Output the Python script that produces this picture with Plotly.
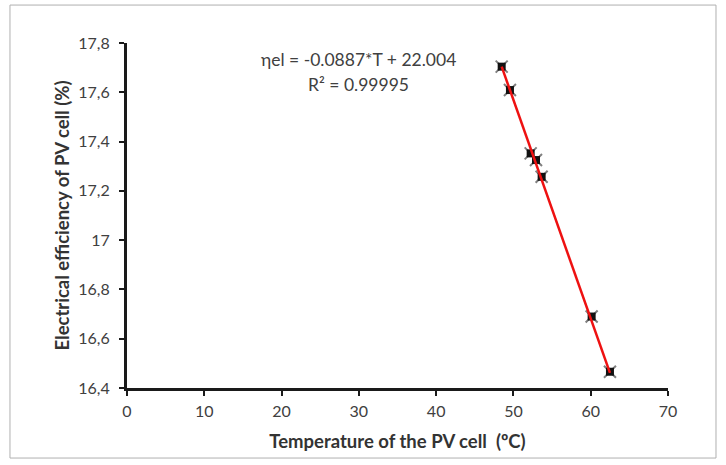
import plotly.graph_objects as go
import numpy as np

# Data
temperature = [48.48, 49.55, 52.23, 52.92, 53.65, 60.12, 62.49]
efficiency = [17.704, 17.609, 17.352, 17.325, 17.257, 16.690, 16.466]
fit_slope = -0.0887
fit_intercept = 22.004
x_ticks = [0, 10, 20, 30, 40, 50, 60, 70]
y_ticks = [16.4, 16.6, 16.8, 17.0, 17.2, 17.4, 17.6, 17.8]
y_tick_labels = ["16,4", "16,6", "16,8", "17", "17,2", "17,4", "17,6", "17,8"]

FONT = "Lato, 'Open Sans', sans-serif"

fit_x = np.array([min(temperature), max(temperature)])
fit_y = fit_slope * fit_x + fit_intercept

fig = go.Figure()
fig.add_trace(go.Scatter(x=temperature, y=efficiency, mode="markers",
                         marker=dict(symbol="x-thin", size=12, color="#808080",
                                     line=dict(width=2, color="#808080")),
                         hoverinfo="skip", showlegend=False))
fig.add_trace(go.Scatter(x=temperature, y=efficiency, mode="markers",
                         marker=dict(symbol="square", size=8, color="#111111"),
                         showlegend=False))
fig.add_trace(go.Scatter(x=fit_x, y=fit_y, mode="lines",
                         line=dict(color="#ee1111", width=2.5), showlegend=False))

fig.update_layout(
    width=726, height=465,
    margin=dict(l=127, r=58, t=43, b=77),
    paper_bgcolor="white", plot_bgcolor="white",
    font=dict(family=FONT, size=16, color="#404040"),
    xaxis=dict(range=[0, 70], tickvals=x_ticks, showgrid=False, zeroline=False,
               showline=True, linecolor="#1a1a1a", linewidth=3,
               ticks="outside", ticklen=5, tickwidth=2, tickcolor="#1a1a1a",
               ticklabelstandoff=2,
               tickfont=dict(size=16, color="#404040"),
               title=dict(text="<b>Temperature of the PV cell  (ºC)</b>",
                          font=dict(size=18.5, color="#333333"), standoff=16)),
    yaxis=dict(range=[16.4, 17.8], tickvals=y_ticks, ticktext=y_tick_labels,
               showgrid=False, zeroline=False,
               showline=True, linecolor="#1a1a1a", linewidth=3,
               ticks="outside", ticklen=5, tickwidth=2, tickcolor="#1a1a1a",
               ticklabelstandoff=6,
               tickfont=dict(size=16, color="#404040"),
               title=dict(text="<b>Electrical efficiency of PV cell (%)</b>",
                          font=dict(size=18.5, color="#333333"), standoff=4)),
    annotations=[
        dict(x=0.427, y=0.951, xref="paper", yref="paper", showarrow=False,
             xanchor="center", yanchor="middle",
             text="ηel = -0.0887*T + 22.004", font=dict(size=17.5, color="#404040")),
        dict(x=0.427, y=0.881, xref="paper", yref="paper", showarrow=False,
             xanchor="center", yanchor="middle",
             text="R² = 0.99995", font=dict(size=17.5, color="#404040")),
    ],
    shapes=[dict(type="rect", xref="paper", yref="paper",
                 x0=-0.2163, x1=1.0887, y0=-0.203, y1=1.110,
                 line=dict(color="#b0b0b0", width=1), layer="below")],
)

fig.write_html("out.html", config={"displayModeBar": False},
               post_script="document.body.style.margin='0px';document.body.style.padding='0px';")
